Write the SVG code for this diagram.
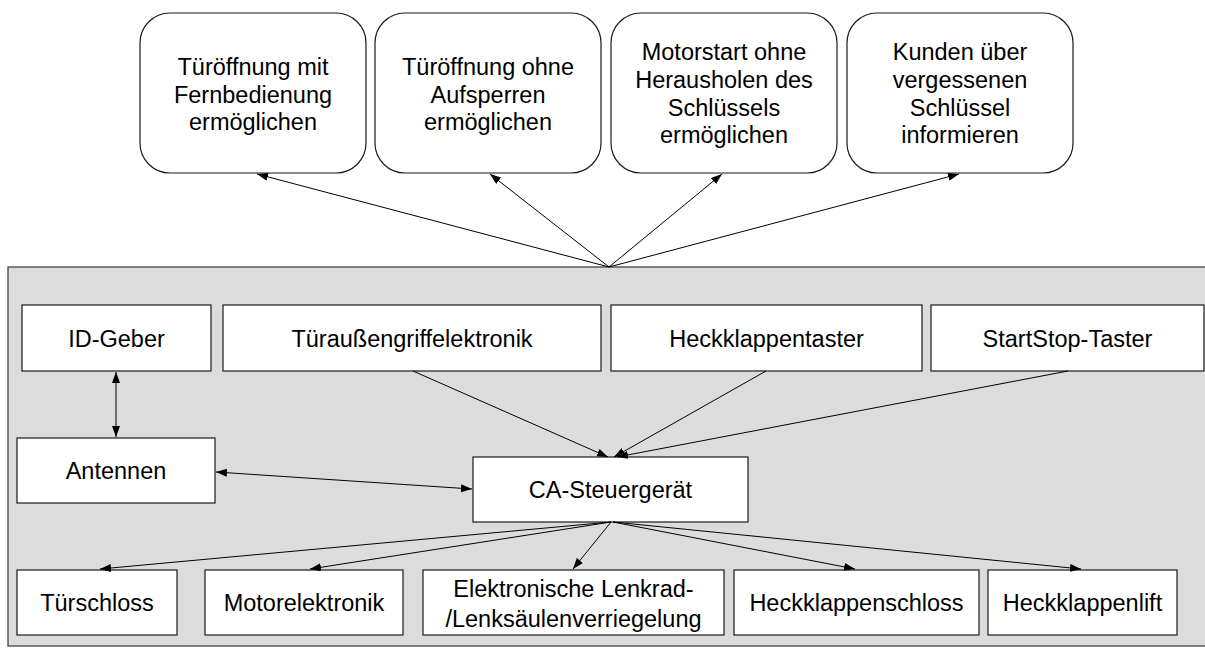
<svg xmlns="http://www.w3.org/2000/svg" width="1205" height="648" viewBox="0 0 1205 648">
  <defs>
    <style>
      .goal { fill: #ffffff; stroke: #1a1a1a; stroke-width: 1.2; }
      .box { fill: #ffffff; stroke: #1a1a1a; stroke-width: 1.2; }
      .system { fill: #dcdcdc; stroke: #444444; stroke-width: 1.3; }
      .lbl { font-family: "Liberation Sans", Arial, Helvetica, sans-serif; font-size: 23.5px; fill: #000000; text-anchor: middle; }
      .conn line { stroke: #000000; stroke-width: 1; fill: none; }
      .one { marker-end: url(#arrow); }
      .two { marker-start: url(#arrow); marker-end: url(#arrow); }
    </style>
    <marker id="arrow" markerUnits="userSpaceOnUse" markerWidth="11" markerHeight="8" refX="11" refY="4" orient="auto-start-reverse">
      <path d="M0,0 L11,4 L0,8 z" fill="#000000"/>
    </marker>
  </defs>

  <rect width="1205" height="648" fill="#ffffff"/>

  <!-- system boundary -->
  <rect id="system" class="system" x="8" y="267" width="1205" height="379"/>

  <!-- goals -->
  <g id="goal-fernbedienung">
    <rect class="goal" x="140" y="13" width="226" height="160" rx="30" ry="30"/>
    <text class="lbl" x="253" y="75">Türöffnung mit</text>
    <text class="lbl" x="253" y="102.5">Fernbedienung</text>
    <text class="lbl" x="253" y="130">ermöglichen</text>
  </g>
  <g id="goal-aufsperren">
    <rect class="goal" x="375" y="13" width="226" height="160" rx="30" ry="30"/>
    <text class="lbl" x="488" y="75">Türöffnung ohne</text>
    <text class="lbl" x="488" y="102.5">Aufsperren</text>
    <text class="lbl" x="488" y="130">ermöglichen</text>
  </g>
  <g id="goal-motorstart">
    <rect class="goal" x="611" y="13" width="226" height="160" rx="30" ry="30"/>
    <text class="lbl" x="724" y="60">Motorstart ohne</text>
    <text class="lbl" x="724" y="88">Herausholen des</text>
    <text class="lbl" x="724" y="116">Schlüssels</text>
    <text class="lbl" x="724" y="143">ermöglichen</text>
  </g>
  <g id="goal-schluessel">
    <rect class="goal" x="847" y="13" width="226" height="160" rx="30" ry="30"/>
    <text class="lbl" x="960" y="60">Kunden über</text>
    <text class="lbl" x="960" y="88">vergessenen</text>
    <text class="lbl" x="960" y="116">Schlüssel</text>
    <text class="lbl" x="960" y="143">informieren</text>
  </g>

  <!-- inputs -->
  <g id="id-geber">
    <rect class="box" x="22" y="305" width="189" height="66"/>
    <text class="lbl" x="116.5" y="346.5">ID-Geber</text>
  </g>
  <g id="tueraussengriff">
    <rect class="box" x="223" y="305" width="378" height="66"/>
    <text class="lbl" x="412" y="346.5">Türaußengriffelektronik</text>
  </g>
  <g id="heckklappentaster">
    <rect class="box" x="611" y="305" width="311" height="66"/>
    <text class="lbl" x="766.5" y="346.5">Heckklappentaster</text>
  </g>
  <g id="startstop">
    <rect class="box" x="931" y="305" width="273" height="66"/>
    <text class="lbl" x="1067.5" y="346.5">StartStop-Taster</text>
  </g>

  <!-- middle row -->
  <g id="antennen">
    <rect class="box" x="17" y="438" width="198" height="65"/>
    <text class="lbl" x="116" y="479">Antennen</text>
  </g>
  <g id="ca-steuergeraet">
    <rect class="box" x="473" y="457" width="275" height="65"/>
    <text class="lbl" x="610.5" y="498">CA-Steuergerät</text>
  </g>

  <!-- actuators -->
  <g id="tuerschloss">
    <rect class="box" x="17" y="570" width="160" height="65"/>
    <text class="lbl" x="97" y="610.5">Türschloss</text>
  </g>
  <g id="motorelektronik">
    <rect class="box" x="205" y="570" width="198" height="65"/>
    <text class="lbl" x="304" y="610.5">Motorelektronik</text>
  </g>
  <g id="lenkradverriegelung">
    <rect class="box" x="423" y="570" width="301" height="65"/>
    <text class="lbl" x="573.5" y="596.5">Elektronische Lenkrad-</text>
    <text class="lbl" x="573.5" y="626.5">/Lenksäulenverriegelung</text>
  </g>
  <g id="heckklappenschloss">
    <rect class="box" x="734" y="570" width="245" height="65"/>
    <text class="lbl" x="856.5" y="610.5">Heckklappenschloss</text>
  </g>
  <g id="heckklappenlift">
    <rect class="box" x="988" y="570" width="189" height="65"/>
    <text class="lbl" x="1082.5" y="610.5">Heckklappenlift</text>
  </g>

  <!-- connectors -->
  <g id="connectors" class="conn">
    <!-- system to goals -->
    <line class="one" x1="609" y1="267" x2="257" y2="174"/>
    <line class="one" x1="609" y1="267" x2="490" y2="174"/>
    <line class="one" x1="609" y1="267" x2="722" y2="174"/>
    <line class="one" x1="609" y1="267" x2="959" y2="174"/>

    <!-- ID-Geber <-> Antennen -->
    <line class="two" x1="116" y1="372" x2="116" y2="437"/>
    <!-- Antennen <-> CA-Steuergeraet -->
    <line class="two" x1="216" y1="472" x2="472" y2="489"/>

    <!-- inputs to CA-Steuergeraet -->
    <line class="one" x1="413" y1="371" x2="608" y2="457"/>
    <line class="one" x1="766" y1="371" x2="614" y2="457"/>
    <line class="one" x1="1068" y1="371" x2="617" y2="457"/>

    <!-- CA-Steuergeraet to actuators -->
    <line class="one" x1="611" y1="522" x2="100" y2="569"/>
    <line class="one" x1="611" y1="522" x2="310" y2="569"/>
    <line class="one" x1="611" y1="522" x2="573" y2="569"/>
    <line class="one" x1="613" y1="522" x2="855" y2="569"/>
    <line class="one" x1="613" y1="522" x2="1081" y2="569"/>
  </g>
</svg>
